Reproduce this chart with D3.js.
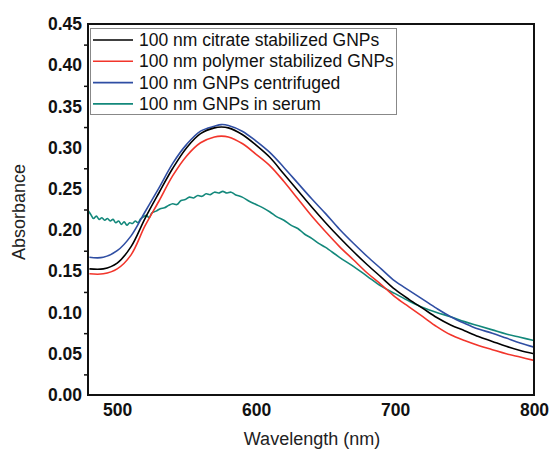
<!DOCTYPE html>
<html>
<head>
<meta charset="utf-8">
<script src="https://cdn.jsdelivr.net/npm/d3@7"></script>
<style>
  body { margin: 0; background: #fff; }
  text { font-family: Arial, "Liberation Sans", sans-serif; }
</style>
</head>
<body>
<script>
const width = 550;
const height = 450;

// wavelength grid (nm) for the smooth spectra
const wavelengths = [480, 490, 500, 510, 520, 530, 540, 550, 560, 570, 575, 580, 590, 600,
    610, 620, 630, 640, 650, 660, 670, 680, 690, 700, 710, 720, 730, 740, 750, 760, 770, 780, 790, 800];

const citrate = [0.153, 0.153, 0.160, 0.180, 0.214, 0.245, 0.275, 0.300, 0.317, 0.324, 0.325, 0.324, 0.316, 0.303,
    0.288, 0.268, 0.248, 0.228, 0.209, 0.191, 0.174, 0.158, 0.143, 0.128, 0.116, 0.105, 0.094, 0.085, 0.078, 0.071, 0.065, 0.059, 0.054, 0.050];
const polymer = [0.147, 0.147, 0.153, 0.170, 0.205, 0.235, 0.266, 0.290, 0.306, 0.313, 0.314, 0.313, 0.305, 0.292,
    0.278, 0.259, 0.238, 0.217, 0.198, 0.180, 0.164, 0.148, 0.134, 0.119, 0.107, 0.095, 0.083, 0.073, 0.066, 0.060, 0.055, 0.050, 0.046, 0.042];
const centrifuged = [0.167, 0.167, 0.175, 0.193, 0.222, 0.251, 0.281, 0.304, 0.320, 0.326, 0.328, 0.327, 0.320, 0.308,
    0.294, 0.276, 0.257, 0.238, 0.220, 0.201, 0.184, 0.168, 0.153, 0.138, 0.127, 0.116, 0.105, 0.095, 0.087, 0.080, 0.075, 0.069, 0.063, 0.058];

// serum spectrum is noisy, so it has its own finer grid
const serumWl = [479, 481, 483, 485, 487, 489, 491, 493, 495, 497, 499, 501, 503, 505, 507, 509, 511, 513, 515,
    517, 519, 521, 523, 525, 528, 531, 534, 537, 540, 543, 546, 549, 552, 555, 558, 561, 564, 567, 570, 573,
    576, 579, 582, 585, 590, 595, 600, 605, 610, 615, 620, 625, 630, 635, 640, 645, 650, 660, 670, 680, 690,
    700, 710, 720, 730, 740, 750, 760, 770, 780, 790, 800];
const serum = [0.224, 0.219, 0.214, 0.217, 0.213, 0.215, 0.212, 0.214, 0.211, 0.213, 0.209, 0.211, 0.207, 0.210,
    0.206, 0.209, 0.208, 0.211, 0.209, 0.214, 0.216, 0.218, 0.215, 0.221, 0.223, 0.226, 0.227, 0.230, 0.232,
    0.231, 0.236, 0.237, 0.240, 0.239, 0.242, 0.241, 0.244, 0.243, 0.246, 0.245, 0.247, 0.245, 0.246, 0.243,
    0.240, 0.235, 0.231, 0.227, 0.222, 0.216, 0.212, 0.206, 0.202, 0.195, 0.190, 0.184, 0.179, 0.167, 0.156,
    0.144, 0.132, 0.123, 0.114, 0.106, 0.100, 0.095, 0.089, 0.084, 0.079, 0.074, 0.070, 0.066];

const seriesNames = ["100 nm citrate stabilized GNPs", "100 nm polymer stabilized GNPs",
    "100 nm GNPs centrifuged", "100 nm GNPs in serum"];
const seriesColors = ["#000000", "#f2352b", "#2f4ea3", "#13887b"];

const xTicks = [500, 600, 700, 800];
const yTicks = [0.00, 0.05, 0.10, 0.15, 0.20, 0.25, 0.30, 0.35, 0.40, 0.45];
const yMinorTicks = [0.025, 0.075, 0.125, 0.175, 0.225, 0.275, 0.325, 0.375, 0.425];

const series = [
    { name: seriesNames[0], color: seriesColors[0], values: wavelengths.map((w, i) => [w, citrate[i]]) },
    { name: seriesNames[1], color: seriesColors[1], values: wavelengths.map((w, i) => [w, polymer[i]]) },
    { name: seriesNames[2], color: seriesColors[2], values: wavelengths.map((w, i) => [w, centrifuged[i]]) },
    { name: seriesNames[3], color: seriesColors[3], values: serumWl.map((w, i) => [w, serum[i]]) }
];

const margin = { top: 24, right: 16, bottom: 55, left: 88 };

const svg = d3.select("body")
    .append("svg")
    .attr("width", width)
    .attr("height", height);

const x = d3.scaleLinear().domain([479, 800]).range([margin.left, width - margin.right]);
const y = d3.scaleLinear().domain([0, 0.45]).range([height - margin.bottom, margin.top]);

// clip so lines stay in the frame
svg.append("clipPath").attr("id", "plot-clip")
    .append("rect")
    .attr("x", margin.left).attr("y", margin.top)
    .attr("width", x.range()[1] - margin.left)
    .attr("height", y.range()[0] - margin.top);

const line = d3.line()
    .x(d => x(d[0]))
    .y(d => y(d[1]))
    .curve(d3.curveCatmullRom);

svg.append("g")
    .attr("clip-path", "url(#plot-clip)")
    .selectAll("path")
    .data(series.slice().reverse())
    .enter()
    .append("path")
    .attr("d", d => line(d.values))
    .attr("fill", "none")
    .attr("stroke", d => d.color)
    .attr("stroke-width", 1.6);

// y axis labels, no tick marks at the labelled values
const yAxis = svg.append("g")
    .attr("transform", `translate(${margin.left},0)`)
    .call(d3.axisLeft(y).tickValues(yTicks).tickFormat(d3.format(".2f")).tickSize(0).tickPadding(6));
yAxis.select(".domain").remove();
yAxis.selectAll("text")
    .attr("font-size", 17.5)
    .attr("font-weight", "bold")
    .attr("font-family", "Arial, 'Liberation Sans', sans-serif")
    .attr("fill", "#111");

// minor outward ticks between the labels
const yMinor = svg.append("g")
    .attr("transform", `translate(${margin.left},0)`)
    .call(d3.axisLeft(y).tickValues(yMinorTicks).tickFormat("").tickSize(4));
yMinor.select(".domain").remove();
yMinor.selectAll("line").attr("stroke", "#111").attr("stroke-width", 1.5);

const xAxis = svg.append("g")
    .attr("transform", `translate(0,${y(0)})`)
    .call(d3.axisBottom(x).tickValues(xTicks).tickFormat(d3.format("d")).tickSize(0).tickPadding(9));
xAxis.select(".domain").remove();
xAxis.selectAll("text")
    .attr("font-size", 17.5)
    .attr("font-weight", "bold")
    .attr("font-family", "Arial, 'Liberation Sans', sans-serif")
    .attr("fill", "#111");

// frame
svg.append("rect")
    .attr("x", margin.left)
    .attr("y", margin.top)
    .attr("width", x.range()[1] - margin.left)
    .attr("height", y.range()[0] - margin.top)
    .attr("fill", "none")
    .attr("stroke", "#111")
    .attr("stroke-width", 2);

// axis titles
svg.append("text")
    .attr("x", 312)
    .attr("y", 445)
    .attr("text-anchor", "middle")
    .attr("font-size", 18)
    .attr("fill", "#222")
    .text("Wavelength (nm)");

svg.append("text")
    .attr("transform", `translate(25,${212}) rotate(-90)`)
    .attr("text-anchor", "middle")
    .attr("font-size", 18)
    .attr("fill", "#222")
    .text("Absorbance");

// legend
const legend = svg.append("g").attr("class", "legend");
legend.append("rect")
    .attr("x", 90.5)
    .attr("y", 28.5)
    .attr("width", 306)
    .attr("height", 86)
    .attr("fill", "#fff")
    .attr("stroke", "#888")
    .attr("stroke-width", 1);

const rows = legend.selectAll(".row")
    .data(series)
    .enter()
    .append("g")
    .attr("class", "row")
    .attr("transform", (d, i) => `translate(0,${40 + i * 21.3})`);

rows.append("line")
    .attr("x1", 93).attr("x2", 133)
    .attr("y1", 0).attr("y2", 0)
    .attr("stroke", d => d.color)
    .attr("stroke-width", 1.6);

rows.append("text")
    .attr("x", 139)
    .attr("y", 6)
    .attr("font-size", 17.5)
    .attr("fill", "#111")
    .text(d => d.name);
</script>
</body>
</html>
